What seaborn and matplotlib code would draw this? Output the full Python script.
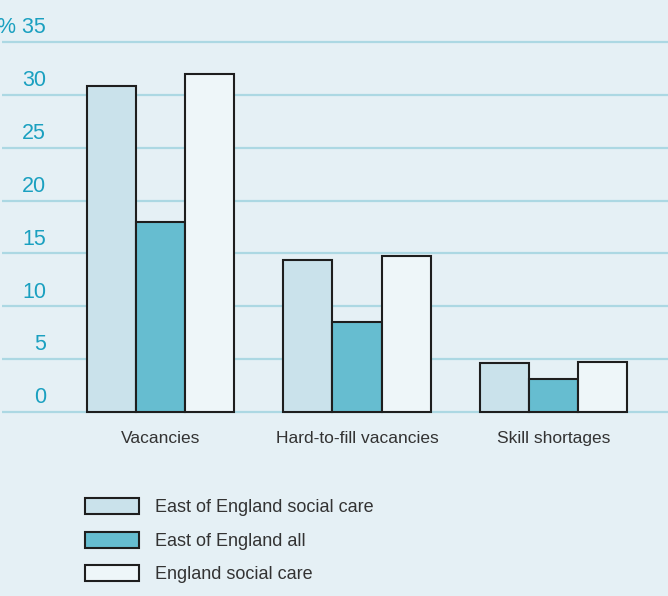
import matplotlib
matplotlib.use("Agg")
import matplotlib.pyplot as plt
import seaborn as sns
import pandas as pd

# Share of establishments reporting each recruitment problem (%)
categories = ["Vacancies", "Hard-to-fill vacancies", "Skill shortages"]
series = ["East of England social care", "East of England all", "England social care"]
east_social_care = [30.8, 14.4, 4.6]
east_all = [18.0, 8.5, 3.1]
england_social_care = [32.0, 14.8, 4.7]
y_ticks = [0, 5, 10, 15, 20, 25, 30, 35]
y_tick_labels = ["0", "5", "10", "15", "20", "25", "30", "% 35"]

bg = "#e5f0f5"
grid_col = "#acd8e3"
tick_col = "#1aa0c0"
text_col = "#333333"
palette = ["#cae2eb", "#66bdd0", "#eef6f9"]

rows = []
for name, vals in zip(series, [east_social_care, east_all, england_social_care]):
    for cat, v in zip(categories, vals):
        rows.append({"category": cat, "series": name, "value": v})
df = pd.DataFrame(rows)

sns.set_theme(style="white")
plt.rcParams["font.family"] = ["Liberation Sans", "DejaVu Sans"]

W, H = 668, 596
fig = plt.figure(figsize=(W / 100, H / 100), dpi=100, facecolor=bg)

# axes geometry in pixels: y=0 at 412 px, y=35 at 42 px
y_lo, y_hi = -0.5, 35.3
ppu = (412 - 42) / 35.0
bottom_px = 412 + (0 - y_lo) * ppu
top_px = 42 - (y_hi - 35) * ppu
ax_left = 2 / W
ax = fig.add_axes([ax_left, 1 - bottom_px / H, 1 - ax_left, (bottom_px - top_px) / H])
ax.set_facecolor(bg)

sns.barplot(data=df, x="category", y="value", hue="series", hue_order=series,
            order=categories, palette=palette, width=0.75, gap=0,
            edgecolor="#1e1e1e", linewidth=1.5, saturation=1, ax=ax, zorder=3)

ax.set_ylim(y_lo, y_hi)
ax.set_xlim(-(160.5 - 2) / 196.5, (668 - 160.5) / 196.5)
ax.set_yticks(y_ticks)
ax.set_yticklabels([])
ax.tick_params(axis="y", length=0)
ax.yaxis.grid(True, color=grid_col, linewidth=1.6, zorder=0)
ax.set_axisbelow(True)
for s in ax.spines.values():
    s.set_visible(False)

# y labels sit just above their gridline
ytr = ax.get_yaxis_transform()
for val, lab in zip(y_ticks, y_tick_labels):
    ax.text((46 - 2) / (W - 2), val + 1.35, lab, transform=ytr, ha="right", va="center",
            color=tick_col, fontsize=15.5)

ax.tick_params(axis="x", length=0, pad=10, labelsize=12.5, labelcolor=text_col)
ax.set_xlabel("")
ax.set_ylabel("")

handles, labels = ax.get_legend_handles_labels()
if ax.legend_:
    ax.legend_.remove()
fig.legend(handles, labels, loc="upper left", bbox_to_anchor=(85 / W, 1 - 498 / H),
           frameon=False, fontsize=13, handlelength=3.0, handleheight=1.0,
           handletextpad=0.9, labelspacing=0.85, borderpad=0, borderaxespad=0,
           labelcolor=text_col)

fig.savefig("out.png", dpi=100, facecolor=bg)
